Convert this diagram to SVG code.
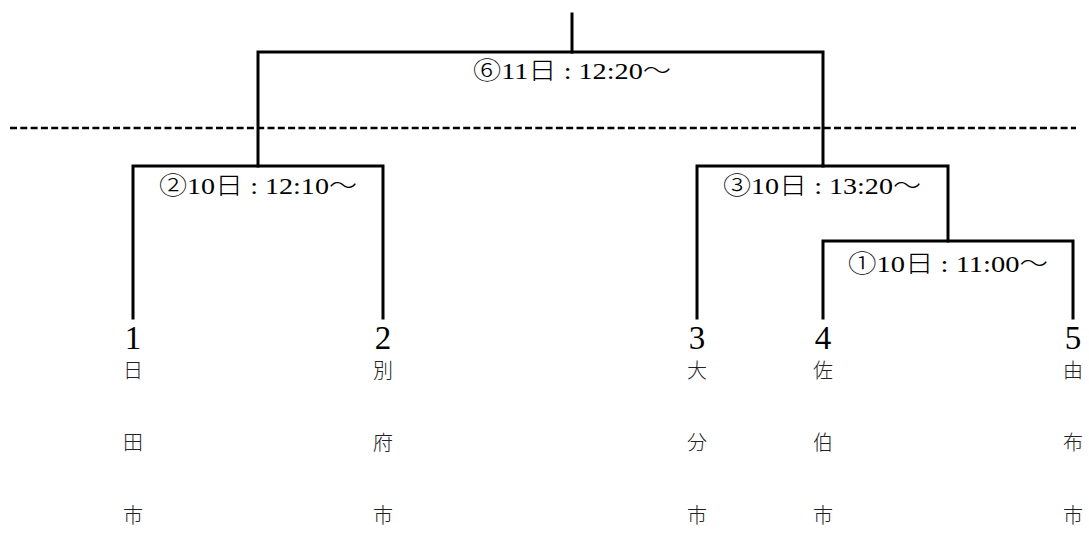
<svg xmlns="http://www.w3.org/2000/svg" width="1089" height="547" viewBox="0 0 1089 547">
<style>
.ln{fill:none;stroke:#000;stroke-width:3;stroke-linejoin:miter;stroke-linecap:square}
.dash{fill:none;stroke:#000;stroke-width:2.5;stroke-dasharray:7 3.3}
.lbl{font-family:"Liberation Serif","Noto Sans CJK JP",serif;font-size:24px;fill:#000;text-anchor:middle}
.cj{font-family:"Noto Sans CJK JP",sans-serif;font-weight:300}
.num{font-family:"Liberation Serif",serif;font-size:33px;fill:#000;text-anchor:middle}
.kj{font-family:"Noto Sans CJK JP",sans-serif;font-size:20px;font-weight:300;fill:#222;text-anchor:middle}
</style>
<rect width="1089" height="547" fill="#fff"/>
<g id="connectors">
<path class="ln" d="M572,14 V52"/>
<path class="ln" d="M258,166 V52 H823 V166"/>
<path class="ln" d="M133,318 V166 H383 V318"/>
<path class="ln" d="M697,318 V166 H948 V241"/>
<path class="ln" d="M823,318 V241 H1073 V318"/>
<path class="dash" d="M10,128 H1076"/>
</g>
<g id="match6"><text class="lbl" x="572" y="79" textLength="198" lengthAdjust="spacingAndGlyphs"><tspan class="cj">⑥</tspan>11<tspan class="cj">日</tspan> : 12:20<tspan class="cj">～</tspan></text></g>
<g id="match2"><text class="lbl" x="258" y="194" textLength="198" lengthAdjust="spacingAndGlyphs"><tspan class="cj">②</tspan>10<tspan class="cj">日</tspan> : 12:10<tspan class="cj">～</tspan></text></g>
<g id="match3"><text class="lbl" x="822" y="194" textLength="198" lengthAdjust="spacingAndGlyphs"><tspan class="cj">③</tspan>10<tspan class="cj">日</tspan> : 13:20<tspan class="cj">～</tspan></text></g>
<g id="match1"><text class="lbl" x="948" y="272" textLength="200" lengthAdjust="spacingAndGlyphs"><tspan class="cj">①</tspan>10<tspan class="cj">日</tspan> : 11:00<tspan class="cj">～</tspan></text></g>
<g id="team1"><text class="num" x="133" y="349">1</text><text class="kj" x="133" y="378">日</text><text class="kj" x="133" y="450">田</text><text class="kj" x="133" y="523">市</text></g>
<g id="team2"><text class="num" x="383" y="349">2</text><text class="kj" x="383" y="378">別</text><text class="kj" x="383" y="450">府</text><text class="kj" x="383" y="523">市</text></g>
<g id="team3"><text class="num" x="697" y="349">3</text><text class="kj" x="697" y="378">大</text><text class="kj" x="697" y="450">分</text><text class="kj" x="697" y="523">市</text></g>
<g id="team4"><text class="num" x="823" y="349">4</text><text class="kj" x="823" y="378">佐</text><text class="kj" x="823" y="450">伯</text><text class="kj" x="823" y="523">市</text></g>
<g id="team5"><text class="num" x="1073" y="349">5</text><text class="kj" x="1073" y="378">由</text><text class="kj" x="1073" y="450">布</text><text class="kj" x="1073" y="523">市</text></g>
</svg>
